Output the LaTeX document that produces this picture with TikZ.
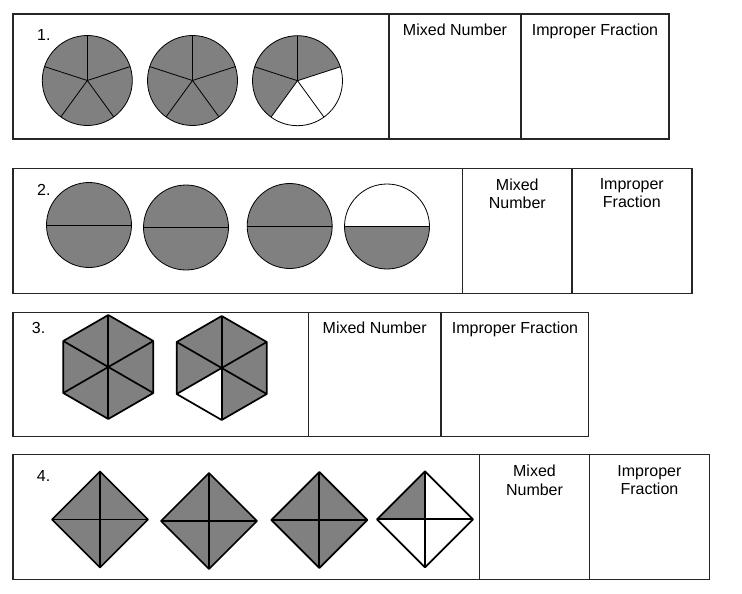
\documentclass[tikz,border=0pt]{standalone}
\usepackage{fontspec}
\setmainfont{Liberation Sans}
\definecolor{piegray}{RGB}{128,128,128}

\begin{document}
\begin{tikzpicture}[
  x=1pt, y=-1pt,
  frame/.style={draw=black!85, line width=1.3pt},
  thinline/.style={draw=black, line width=0.8pt},
  thickline/.style={draw=black, line width=1.7pt, line join=round},
  head/.style={inner sep=0pt, align=center, font=\fontsize{16}{18.4}\selectfont},
  num/.style={inner sep=0pt, anchor=base west, font=\fontsize{16}{18.4}\selectfont}
]
\useasboundingbox (0,0) rectangle (742,594);

% Row 1: fifths
\draw[frame] (13,14) rectangle (669,139);
\draw[frame] (389,14) -- (389,139);
\draw[frame] (521,14) -- (521,139);
\node[num] (n1) at (37,40.5) {1.};
\node[head, anchor=base] (mix1) at (455,35.3) {Mixed Number};
\node[head, anchor=base] (imp1) at (595,35.3) {Improper Fraction};
\foreach \cx in {87.3,192.5} {
  \fill[piegray] (\cx,80.5) circle (45);
  \foreach \a in {-90,-18,54,126,198}
    \draw[thinline] (\cx,80.5) -- +(\a:45);
  \draw[thinline] (\cx,80.5) circle (45);
}
\coordinate (p3) at (297.5,80.7);
\fill[white] (p3) circle (45);
\fill[piegray] (p3) -- +(-18:45) arc[start angle=-18, end angle=-234, radius=45] -- cycle;
\foreach \a in {-90,-18,54,126,198}
  \draw[thinline] (p3) -- +(\a:45);
\draw[thinline] (p3) circle (45);

% Row 2: halves
\draw[frame] (13,168.5) rectangle (692,293.7);
\draw[frame] (462.3,168.5) -- (462.3,293.7);
\draw[frame] (572,168.5) -- (572,293.7);
\node[num] (n2) at (37,195.7) {2.};
\node[head, anchor=north] (mix2) at (517.3,178.3) {Mixed\\Number};
\node[head, anchor=north] (imp2) at (631.8,178.3) {Improper\\Fraction};
\foreach \cx/\cy in {89/225, 186/227.5, 289.7/226} {
  \fill[piegray] (\cx,\cy) circle (42.5);
  \draw[thinline] (\cx,\cy) +(-42.5,0) -- +(42.5,0);
  \draw[thinline] (\cx,\cy) circle (42.5);
}
\coordinate (h4) at (387,226.5);
\fill[white] (h4) circle (42.5);
\fill[piegray] (h4) +(0:42.5) arc[start angle=0, end angle=180, radius=42.5] -- cycle;
\draw[thinline] (h4) +(-42.5,0) -- +(42.5,0);
\draw[thinline] (h4) circle (42.5);

% Row 3: sixths
\draw[frame] (13,312.3) rectangle (588.7,436.8);
\draw[frame] (308.5,312.3) -- (308.5,436.8);
\draw[frame] (441,312.3) -- (441,436.8);
\node[num] (n3) at (31.7,333.5) {3.};
\node[head, anchor=base] (mix3) at (374.7,333.3) {Mixed Number};
\node[head, anchor=base] (imp3) at (515,333.3) {Improper Fraction};
\coordinate (x1) at (108.3,367);
\coordinate (x2) at (221.7,368);
\foreach \c in {x1,x2}
  \fill[piegray] (\c) +(-90:52) -- +(-30:52) -- +(30:52) -- +(90:52) -- +(150:52) -- +(210:52) -- cycle;
\fill[white] (x2) -- +(150:52) -- +(90:52) -- cycle;
\foreach \c in {x1,x2} {
  \foreach \a in {-90,-30,...,210}
    \draw[thickline] (\c) -- +(\a:52);
  \draw[thickline] (\c) +(-90:52) -- +(-30:52) -- +(30:52) -- +(90:52) -- +(150:52) -- +(210:52) -- cycle;
}

% Row 4: quarters
\draw[frame] (13,454.5) rectangle (709.3,579.3);
\draw[frame] (479.5,454.5) -- (479.5,579.3);
\draw[frame] (589.5,454.5) -- (589.5,579.3);
\node[num] (n4) at (36.7,481.7) {4.};
\node[head, anchor=north] (mix4) at (534.5,465) {Mixed\\Number};
\node[head, anchor=north] (imp4) at (649.4,465) {Improper\\Fraction};
\coordinate (d1) at (100,519.5);
\coordinate (d2) at (209,521);
\coordinate (d3) at (319.3,520);
\coordinate (d4) at (425,519.3);
\foreach \c in {d1,d2,d3}
  \fill[piegray] (\c) +(0:48) -- +(90:48) -- +(180:48) -- +(270:48) -- cycle;
\fill[white] (d4) +(0:48) -- +(90:48) -- +(180:48) -- +(270:48) -- cycle;
\fill[piegray] (d4) -- +(270:48) -- +(180:48) -- cycle;
\foreach \c in {d1,d2,d3,d4} {
  \draw[thickline] (\c) +(-48,0) -- +(48,0);
  \draw[thickline] (\c) +(0,-48) -- +(0,48);
  \draw[thickline] (\c) +(0:48) -- +(90:48) -- +(180:48) -- +(270:48) -- cycle;
}
\end{tikzpicture}
\end{document}
